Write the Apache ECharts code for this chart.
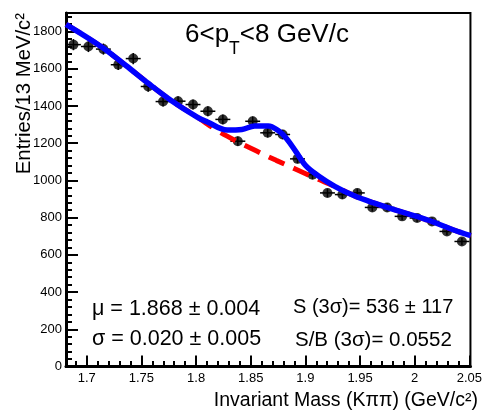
<!DOCTYPE html>
<html><head><meta charset="utf-8">
<script src="https://cdn.jsdelivr.net/npm/echarts@6/dist/echarts.min.js"></script>
<style>html,body{margin:0;padding:0;background:#fff}#c{width:485px;height:414px}</style>
</head><body><div id="c"></div>
<script>
// ---- data ----
const binCenters = [1.6878,1.7015,1.7152,1.7288,1.7425,1.7562,1.7698,1.7835,1.7972,1.8108,1.8245,1.8382,1.8518,1.8655,1.8792,1.8928,1.9065,1.9202,1.9338,1.9475,1.9612,1.9748,1.9885,2.0022,2.0158,2.0295,2.0432];
const counts = [1730,1720,1706,1622,1655,1505,1424,1426,1408,1372,1328,1211,1318,1256,1247,1116,1031,933,924,933,855,855,807,798,780,726,672];
const countErr = [30,30,30,29,30,28,27,27,27,27,26,25,26,25,25,24,24,23,23,23,22,22,21,21,21,20,20];
const binWidth = 0.01367;
const fitX = [1.681,1.7143,1.7358,1.7565,1.7772,1.8014,1.8104,1.8284,1.8419,1.8536,1.8661,1.8751,1.8823,1.8913,1.9003,1.912,1.9273,1.9453,1.9632,1.9812,1.9992,2.0172,2.0351,2.0513];
const fitY = [1839,1715,1618,1521,1430,1339,1314,1271,1274,1293,1293,1268,1228,1155,1080,1024,967,916,878,843,811,776,735,703];
const bkgX = [1.681,1.7143,1.7358,1.7565,1.7772,1.8014,1.8194,1.8383,1.8554,1.8733,1.8913,1.9093,1.9273,1.9453,1.9632,1.9812,1.9992,2.0172,2.0351,2.0513];
const bkgY = [1839,1715,1618,1521,1430,1339,1268,1207,1158,1108,1060,1012,967,916,878,843,811,776,735,703];
const xTicks = [1.7,1.75,1.8,1.85,1.9,1.95,2,2.05];
const yTicks = [0,200,400,600,800,1000,1200,1400,1600,1800];
const titleParts = ['6<p','T','<8 GeV/c'];
const statsLeft = ['\u03bc = 1.868 \u00b1 0.004','\u03c3 = 0.020 \u00b1 0.005'];
const statsRight = ['S (3\u03c3)= 536 \u00b1 117','S/B (3\u03c3)= 0.0552'];
const yTitle = 'Entries/13 MeV/c\u00b2';
const xTitle = 'Invariant Mass (K\u03c0\u03c0) (GeV/c\u00b2)';

// ---- layout ----
const FONT = '"Liberation Sans", Arial, Helvetica, sans-serif';
const XMIN = 1.681, XMAX = 2.051, YMIN = 0, YMAX = 1900;
const xMinor = []; for (let k = 169; k <= 205; k++) xMinor.push(k / 100);
const yMinor = []; for (let k = 0; k <= 1880; k += 40) yMinor.push(k);

const cv = document.createElement('canvas').getContext('2d');
function tw(t, size) { cv.font = size + 'px ' + FONT; return cv.measureText(t).width; }

const graphics = [];
function txt(t, x, y, size, extra) {
  graphics.push(Object.assign({
    type: 'text', x: x, y: y, z: 100,
    style: Object.assign({ text: t, font: size + 'px ' + FONT, fill: '#000', textAlign: 'left', textVerticalAlign: 'middle' }, extra && extra.style || {})
  }, extra && extra.el || {}));
}
// title with subscript
let tx = 185;
txt(titleParts[0], tx, 34.5, 26); tx += tw(titleParts[0], 26);
txt(titleParts[1], tx, 49.5, 17.5); tx += tw(titleParts[1], 17.5);
txt(titleParts[2], tx, 34.5, 26);
// stats
txt(statsLeft[0], 92, 309, 21.5);
txt(statsLeft[1], 92, 339.5, 21.5);
txt(statsRight[0], 293, 307.5, 20);
txt(statsRight[1], 295, 340, 20.5);
// axis titles
txt(yTitle, 24, 13, 20.3, { style: { textAlign: 'right' }, el: { rotation: Math.PI / 2 } });
txt(xTitle, 478, 401, 19.5, { style: { textAlign: 'right' } });

const chart = echarts.init(document.getElementById('c'), null, { renderer: 'canvas' });
const tickStyle = { color: '#000', width: 2 };
chart.setOption({
  animation: false,
  backgroundColor: '#fff',
  grid: { left: 66, right: 7, top: 13, bottom: 47.5, show: true, borderColor: '#000', borderWidth: 2, backgroundColor: 'transparent' },
  xAxis: [
    { type: 'value', min: XMIN, max: XMAX, position: 'bottom',
      axisLine: { show: true, onZero: false, lineStyle: { color: '#000', width: 3 } },
      axisTick: { show: true, inside: true, length: 11, customValues: xTicks, lineStyle: tickStyle },
      axisLabel: { show: true, customValues: xTicks, margin: 5, color: '#000', fontSize: 13, fontFamily: FONT,
        formatter: v => String(+(+v).toFixed(2)) },
      splitLine: { show: false } },
    { type: 'value', min: XMIN, max: XMAX, position: 'bottom',
      axisLine: { show: false, onZero: false },
      axisTick: { show: true, inside: true, length: 5.5, customValues: xMinor, lineStyle: tickStyle },
      axisLabel: { show: false }, splitLine: { show: false } }
  ],
  yAxis: [
    { type: 'value', min: YMIN, max: YMAX, position: 'left',
      axisLine: { show: true, onZero: false, lineStyle: { color: '#000', width: 3 } },
      axisTick: { show: true, inside: true, length: 12, customValues: yTicks, lineStyle: tickStyle },
      axisLabel: { show: true, customValues: yTicks, margin: 4, color: '#000', fontSize: 13, fontFamily: FONT,
        formatter: v => String(Math.round(v)) },
      splitLine: { show: false } },
    { type: 'value', min: YMIN, max: YMAX, position: 'left',
      axisLine: { show: false, onZero: false },
      axisTick: { show: true, inside: true, length: 6, customValues: yMinor, lineStyle: tickStyle },
      axisLabel: { show: false }, splitLine: { show: false } }
  ],
  series: [
    { type: 'custom', name: 'err', z: 3,
      data: binCenters.map((x, i) => [x, counts[i], countErr[i]]),
      renderItem: function (params, api) {
        const x = api.value(0), y = api.value(1), e = api.value(2);
        const l = api.coord([x - binWidth / 2, y]), r = api.coord([x + binWidth / 2, y]);
        const t = api.coord([x, y + e]), b = api.coord([x, y - e]);
        const st = { stroke: '#000', lineWidth: 1.5 };
        return { type: 'group', children: [
          { type: 'line', shape: { x1: l[0], y1: l[1], x2: r[0], y2: r[1] }, style: st },
          { type: 'line', shape: { x1: t[0], y1: t[1], x2: b[0], y2: b[1] }, style: st }
        ] };
      } },
    { type: 'scatter', name: 'data', z: 4, symbol: 'circle', symbolSize: 10,
      itemStyle: { color: '#000' },
      data: binCenters.map((x, i) => [x, counts[i]]) },
    { type: 'line', name: 'bkg', z: 5, smooth: 0.35, showSymbol: false, symbol: 'none',
      lineStyle: { color: '#ff0000', width: 5, type: [17, 10], cap: 'butt' },
      data: bkgX.map((x, i) => [x, bkgY[i]]) },
    { type: 'line', name: 'fit', z: 6, smooth: 0.35, showSymbol: false, symbol: 'none',
      lineStyle: { color: '#0000ff', width: 5.5 },
      data: fitX.map((x, i) => [x, fitY[i]]) }
  ],
  graphic: graphics
});
</script>
</body></html>
